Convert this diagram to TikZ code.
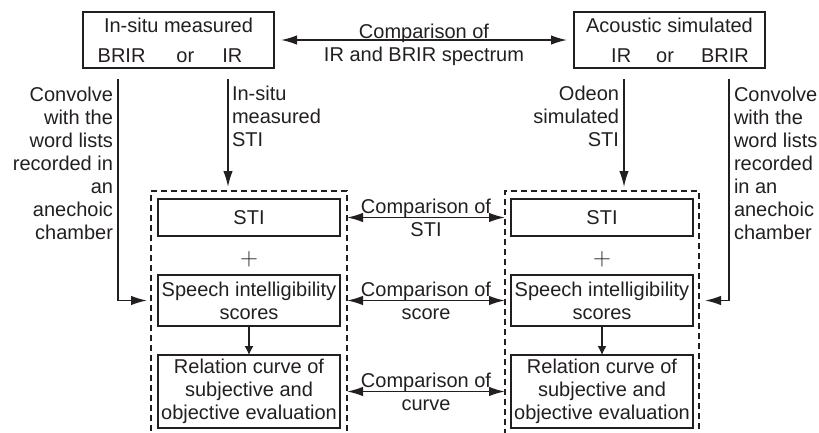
\documentclass[tikz,border=0pt]{standalone}
\usepackage{fontspec}
\setmainfont{Liberation Sans}
\usetikzlibrary{arrows.meta}
\definecolor{ink}{RGB}{35,31,32}

\begin{document}
\begin{tikzpicture}[x=1pt,y=-1pt,font=\fontsize{20}{23}\selectfont,color=ink,
  every node/.style={inner sep=0pt,outer sep=0pt},
  box/.style={draw,line width=1.6pt,align=center},
  srcbox/.style={box,minimum width=191pt,minimum height=56pt},
  inbox/.style={box,minimum width=182pt},
  grp/.style={draw,line width=1.5pt,dash pattern=on 6pt off 4pt,minimum height=254pt},
  arr/.style={line width=1.6pt,-{Latex[length=16pt,width=9.5pt]}},
  dbl/.style={line width=1.6pt,{Latex[length=16pt,width=9.5pt]}-{Latex[length=16pt,width=9.5pt]}},
  small/.style={line width=1.2pt,-{Latex[length=9pt,width=9pt]}}]
\useasboundingbox (0,0) rectangle (819,432);
\node[srcbox] (lmeas) at (178.5,40) {In-situ measured\\[7pt]BRIR\hspace{31pt}or\hspace{28pt}IR\hspace*{17pt}};
\node[srcbox] (rsim) at (669.5,40) {Acoustic simulated\\[7pt]\hspace*{21pt}IR\hspace{25pt}or\hspace{27pt}BRIR};
\draw[dbl,shorten <=7pt,shorten >=7pt] (lmeas.east) -- (rsim.west);
\node[align=center] (topcmp) at (424,45) {Comparison of\\IR and BRIR spectrum};
\node[grp,minimum width=196pt] (lgrp) at (249,318) {};
\node[grp,minimum width=194pt] (rgrp) at (602,318) {};
\node[inbox,minimum height=37pt] (lsti) at (249,217.5) {STI};
\node (lplus) at (249,259) {\fontsize{24}{24}\selectfont$+$};
\node[inbox,minimum height=51pt] (lsis) at (249,300.5) {Speech intelligibility\\scores};
\node[inbox,minimum height=73pt] (lrel) at (249,391.5) {Relation curve of\\subjective and\\objective evaluation};
\node[inbox,minimum height=37pt] (rsti) at (602,217.5) {STI};
\node (rplus) at (602,259) {\fontsize{24}{24}\selectfont$+$};
\node[inbox,minimum height=51pt] (rsis) at (602,300.5) {Speech intelligibility\\scores};
\node[inbox,minimum height=73pt] (rrel) at (602,391.5) {Relation curve of\\subjective and\\objective evaluation};
\draw[small] (lsis.south) -- (lrel.north);
\draw[small] (rsis.south) -- (rrel.north);
\coordinate (lconvtop) at (118,79);
\coordinate (lstitop) at (228,79);
\coordinate (rstitop) at (624,79);
\coordinate (rconvtop) at (729,79);
\draw[arr,shorten >=4pt] (lconvtop) |- (lgrp.west |- lsis);
\draw[arr,shorten >=4pt] (lstitop) -- (lgrp.north -| lstitop);
\draw[arr,shorten >=4pt] (rstitop) -- (rgrp.north -| rstitop);
\draw[arr,shorten >=6pt] (rconvtop) |- (rgrp.east |- rsis);
\node[anchor=north east,align=right] (lconvtxt) at (113,87) {Convolve\\with the\\word lists\\recorded in\\an\\anechoic\\chamber};
\node[anchor=north west,align=left] (lstitxt) at (232,86) {In-situ\\measured\\STI};
\node[anchor=north east,align=right] (rstitxt) at (619,86) {Odeon\\simulated\\STI};
\node[anchor=north west,align=left] (rconvtxt) at (734,87) {Convolve\\with the\\word lists\\recorded\\in an\\anechoic\\chamber};
\draw[dbl] (lgrp.east |- lsti) -- (rgrp.west |- rsti);
\draw[dbl] (lgrp.east |- lsis) -- (rgrp.west |- rsis);
\draw[dbl] (lgrp.east |- lrel) -- (rgrp.west |- rrel);
\node[align=center] (sticmp) at (426,217.5) {Comparison of\\STI};
\node[align=center] (scorecmp) at (426,300.5) {Comparison of\\score};
\node[align=center] (curvecmp) at (426,391.5) {Comparison of\\curve};
\end{tikzpicture}
\end{document}
